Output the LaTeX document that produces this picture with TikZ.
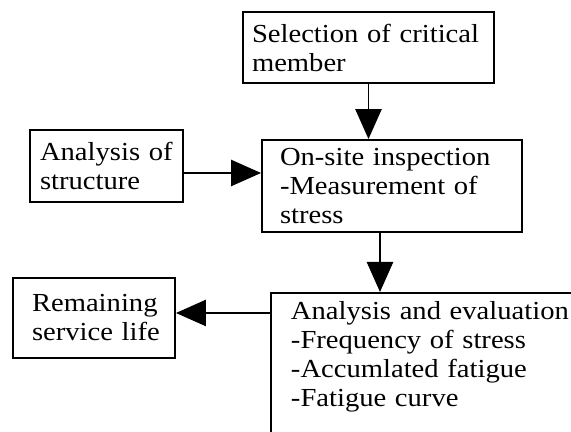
\documentclass[tikz,border=0pt]{standalone}
\usepackage{fontspec}
\setmainfont{Liberation Serif}[FakeStretch=1.1]
\usetikzlibrary{arrows.meta,calc}

\begin{document}
\begin{tikzpicture}[
    box/.style={draw, line width=1.4pt, align=left, anchor=center, inner ysep=0pt,
        font=\fontsize{18.5}{20.6}\selectfont},
    flow/.style={line width=0.9pt, -{Triangle[length=0.75cm, width=0.66cm]}}
]

\clip (0,0) rectangle (14.275,10.8);

% Boxes
\node[box, minimum width=6.275cm, minimum height=1.775cm, text width=5.825cm, inner xsep=0.225cm] (sel) at (9.2125,9.6125) {Selection of critical\\member};

\node[box, minimum width=6.5cm, minimum height=2.3cm, text width=5.6cm, inner xsep=0.45cm] (onsite) at (9.8,6.15) {On-site inspection\\-Measurement of\\stress};

\node[box, minimum width=3.825cm, minimum height=1.8cm, text width=3.325cm, inner xsep=0.25cm] (struct) at (2.6625,6.65) {Analysis of\\structure};

\node[box, minimum width=4.05cm, minimum height=2cm, text width=3.1cm, inner xsep=0.475cm] (rem) at (2.35,2.85) {Remaining\\service~life};

\node[box, anchor=north west, text width=9cm, inner xsep=0.5cm, inner ysep=0.22cm, text depth=5cm] (eval) at (6.75,3.5) {Analysis and evaluation\\-Frequency of stress\\-Accumlated fatigue\\-Fatigue curve};

% Connectors
\draw[flow] (sel.south) -- (sel.south |- onsite.north);
\draw[flow] ([yshift=-0.175cm]struct.east) -- ([yshift=-0.175cm]struct.east -| onsite.west);
\draw[flow] ([xshift=-0.3cm]onsite.south) -- ([xshift=-0.3cm]onsite.south |- eval.north);
\draw[flow] ([yshift=-0.525cm]eval.north west) -- ([yshift=-0.525cm]eval.north west -| rem.east);

\end{tikzpicture}
\end{document}
